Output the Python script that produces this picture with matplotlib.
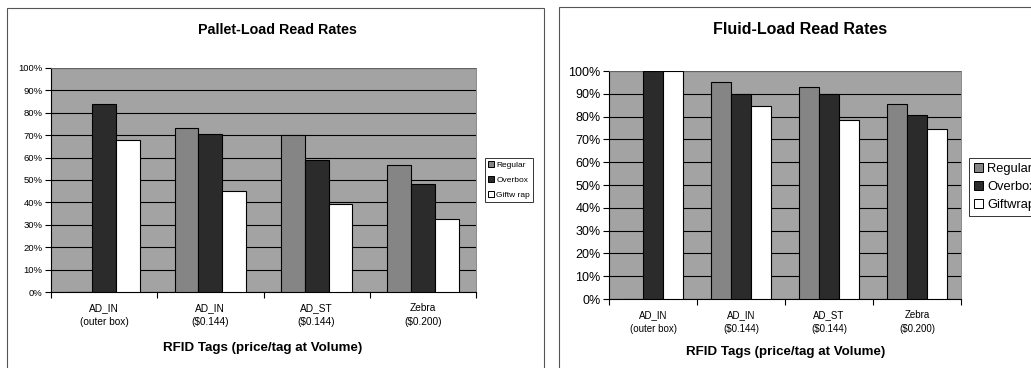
import matplotlib.pyplot as plt
import numpy as np
from matplotlib.patches import Rectangle

plt.rcParams['font.family'] = ['Liberation Sans', 'DejaVu Sans']

# tag categories (two-line labels under each group)
tags = ['AD_IN\n(outer box)', 'AD_IN\n($0.144)', 'AD_ST\n($0.144)', 'Zebra\n($0.200)']
series = ['Regular', 'Overbox', 'Giftwrap']
pallet_legend = ['Regular', 'Overbox', 'Giftw rap']

# read rates in percent (no Regular bar for the outer-box tag)
pallet_regular = [0, 73.3, 70.1, 56.9]
pallet_overbox = [84, 70.4, 58.8, 48.3]
pallet_giftwrap = [68, 45.3, 39.1, 32.8]

fluid_regular = [0, 95.2, 93.0, 85.5]
fluid_overbox = [100, 89.8, 89.8, 80.6]
fluid_giftwrap = [100, 84.5, 78.7, 74.7]

bar_colors = ['#858585', '#2b2b2b', '#ffffff']
bg_color = '#a3a3a3'


def plot(ax, vals, title, labels, yfs, xfs, lfs, title_fs, leg_box,
         title_xy, xl_xy, xpad, lspace, leg_sp):
    x = np.arange(len(tags))
    w = 0.225
    for i, v in enumerate(vals):
        ax.bar(x + (i - 1) * w, v, w, color=bar_colors[i], edgecolor='black',
               linewidth=0.8, label=labels[i], zorder=3)
    ax.set_facecolor(bg_color)
    ax.set_xlim(-0.5, len(tags) - 0.5)
    ax.set_ylim(0, 100)
    ax.set_yticks(np.arange(0, 101, 10))
    ax.set_yticklabels([str(t) + '%' for t in range(0, 101, 10)], fontsize=yfs)
    ax.yaxis.grid(True, color='black', linewidth=0.8, zorder=1)
    ax.set_axisbelow(True)
    # category separators as tick marks, labels centred under groups
    ax.set_xticks(np.arange(-0.5, len(tags), 1.0))
    ax.set_xticklabels([])
    ax.set_xticks(x, minor=True)
    ax.set_xticklabels(tags, minor=True, fontsize=xfs, linespacing=lspace)
    ax.tick_params(axis='x', which='minor', length=0, pad=xpad)
    ax.tick_params(axis='x', which='major', length=4, direction='out')
    ax.tick_params(axis='y', length=4, direction='out', pad=2)
    for s in ['top', 'right']:
        ax.spines[s].set_color('#777777')
        ax.spines[s].set_linewidth(0.6)
    ax.figure.text(title_xy[0], title_xy[1], title, fontsize=title_fs,
                   fontweight='bold', ha='center', va='center')
    ax.figure.text(xl_xy[0], xl_xy[1], 'RFID Tags (price/tag at Volume)',
                   fontsize=9.6, fontweight='bold', ha='center', va='center')
    leg = ax.legend(loc='center left', bbox_to_anchor=leg_box, fontsize=lfs,
                    frameon=True, fancybox=False, edgecolor='black',
                    handlelength=0.7, handleheight=0.7, handletextpad=0.3,
                    borderpad=0.4, labelspacing=leg_sp, borderaxespad=0)
    leg.get_frame().set_linewidth(0.7)
    for h in leg.legend_handles:
        h.set_linewidth(0.7)


fig = plt.figure(figsize=(10.31, 3.68), dpi=100)

# panel frames
fig.add_artist(Rectangle((7 / 1031, -0.01), 537 / 1031, 1 - 8 / 368 + 0.01,
                         transform=fig.transFigure, fill=False,
                         edgecolor='#555555', linewidth=0.8))
fig.add_artist(Rectangle((559 / 1031, -0.01), 0.5, 1 - 7 / 368 + 0.01,
                         transform=fig.transFigure, fill=False,
                         edgecolor='#555555', linewidth=0.8))

ax1 = fig.add_axes([51 / 1031, 1 - 292 / 368, 425 / 1031, 224 / 368])
plot(ax1, [pallet_regular, pallet_overbox, pallet_giftwrap],
     'Pallet-Load Read Rates', pallet_legend, 6.8, 7.3, 6.0, 10.3,
     (1.02, 0.5), (277 / 1031, 1 - 30 / 368), (263 / 1031, 1 - 348 / 368),
     8, 1.5, 0.85)

ax2 = fig.add_axes([609 / 1031, 1 - 299 / 368, 352 / 1031, 228 / 368])
plot(ax2, [fluid_regular, fluid_overbox, fluid_giftwrap],
     'Fluid-Load Read Rates', series, 9, 7, 9.3, 11.5,
     (1.023, 0.49), (800 / 1031, 1 - 30 / 368), (786 / 1031, 1 - 352 / 368),
     8, 1.45, 0.45)

fig.savefig('out.png', dpi=100)
